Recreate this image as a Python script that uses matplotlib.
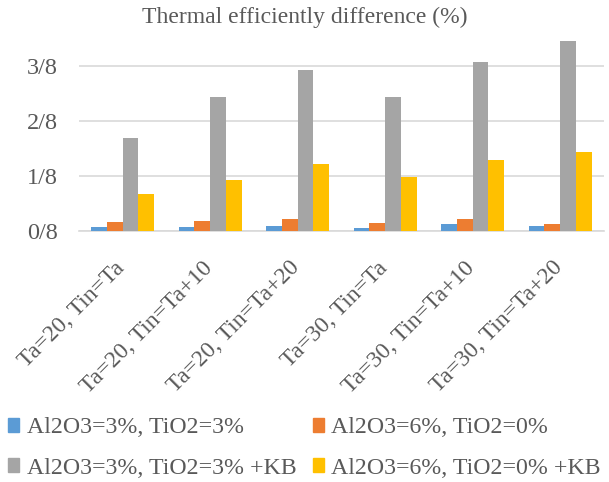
import matplotlib
matplotlib.use("Agg")
import matplotlib.pyplot as plt
from matplotlib.ticker import FixedLocator, FuncFormatter
from matplotlib.patches import Patch
import matplotlib.transforms as mtransforms
import numpy as np

categories = ["Ta=20, Tin=Ta", "Ta=20, Tin=Ta+10", "Ta=20, Tin=Ta+20",
              "Ta=30, Tin=Ta", "Ta=30, Tin=Ta+10", "Ta=30, Tin=Ta+20"]
series_names = ["Al2O3=3%, TiO2=3%", "Al2O3=6%, TiO2=0%",
                "Al2O3=3%, TiO2=3% +KB", "Al2O3=6%, TiO2=0% +KB"]
s1 = [0.0078, 0.0084, 0.0114, 0.0055, 0.0145, 0.0114]
s2 = [0.0198, 0.0220, 0.0266, 0.0175, 0.0273, 0.0153]
s3 = [0.2113, 0.3031, 0.3650, 0.3031, 0.3834, 0.4313]
s4 = [0.0841, 0.1159, 0.1509, 0.1220, 0.1613, 0.1788]
colors = ["#5B9BD5", "#ED7D31", "#A5A5A5", "#FFC000"]
yticks = [0, 0.125, 0.25, 0.375]
title = "Thermal efficiently difference (%)"

plt.rcParams['font.family'] = ['Liberation Serif', 'DejaVu Serif']
txt = "#595959"

fig = plt.figure(figsize=(6.09, 4.82), dpi=100)
ax = fig.add_axes([79/609, 1-230.7/482, (604-79)/609, (230.7-38)/482])

x = np.arange(len(categories))
w = 0.18
for i, (vals, c) in enumerate(zip([s1, s2, s3, s4], colors)):
    ax.bar(x + (i - 1.5) * w, vals, width=w, color=c, zorder=3)

ax.set_xlim(-0.5, len(categories) - 0.5)
ax.set_ylim(0, 0.4375)
ax.yaxis.set_major_locator(FixedLocator(yticks))
ax.yaxis.set_major_formatter(FuncFormatter(lambda v, p: f"{int(round(v*8))}/8"))
ax.grid(axis='y', color='#D9D9D9', linewidth=1.2, zorder=0)
for s in ['top', 'right', 'left']:
    ax.spines[s].set_visible(False)
ax.spines['bottom'].set_color('#D9D9D9')
ax.spines['bottom'].set_linewidth(1.2)
ax.tick_params(axis='both', length=0, colors=txt)
ax.tick_params(axis='y', pad=15, labelsize=17.5)
ax.set_xticks(x)
ax.set_xticklabels(categories, rotation=45, ha='right', va='center',
                   rotation_mode='anchor', fontsize=17, color=txt)
ax.tick_params(axis='x', pad=0)
off = mtransforms.ScaledTranslation(-1/100, -34/100, fig.dpi_scale_trans)
for lab in ax.get_xticklabels():
    lab.set_transform(lab.get_transform() + off)

fig.text(305/609, 1-17/482, title, ha='center', va='center', fontsize=17, color=txt)

order = [0, 2, 1, 3]
handles = [Patch(color=colors[i]) for i in order]
labels = [series_names[i] for i in order]
fig.legend(handles, labels, loc='center left', bbox_to_anchor=(0.0, 1-448/482),
           ncol=2, frameon=False, fontsize=17.2, labelcolor=txt,
           handlelength=0.46, handleheight=0.5, handletextpad=0.3,
           columnspacing=0.7, borderaxespad=0.0, borderpad=0.35, labelspacing=0.8)

fig.savefig("out.png", dpi=100)
